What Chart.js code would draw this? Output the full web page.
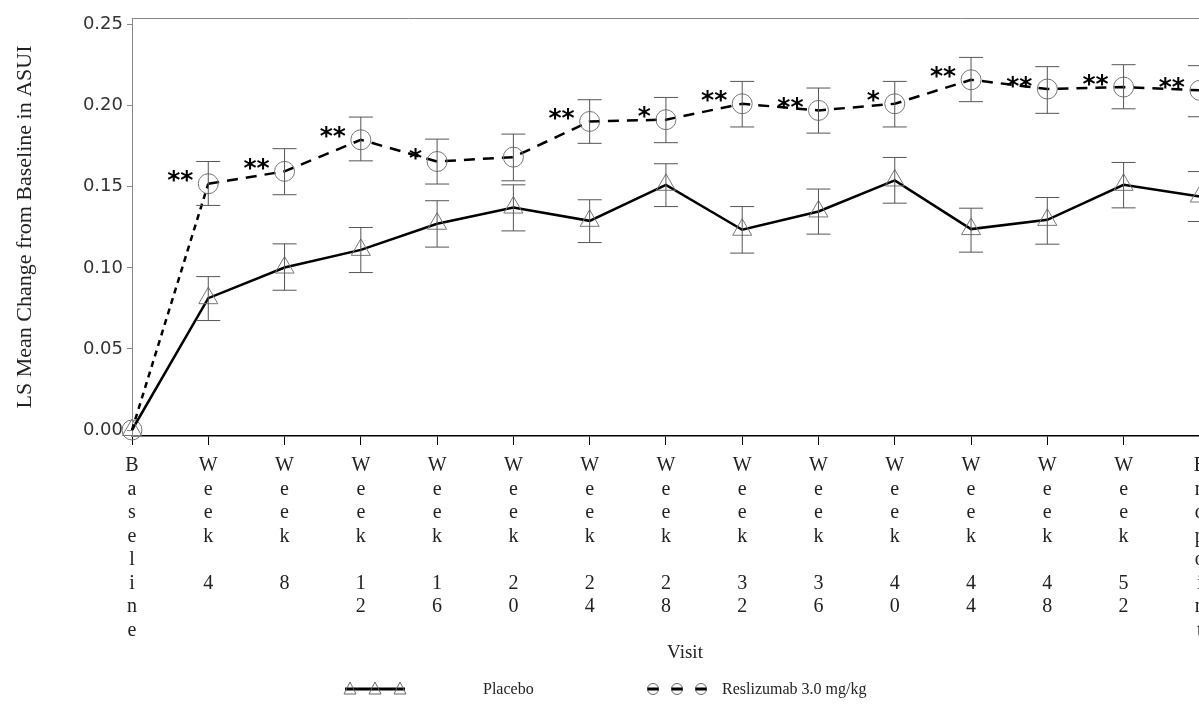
<!DOCTYPE html>
<html>
<head>
<meta charset="utf-8">
<script src="https://cdn.jsdelivr.net/npm/chart.js@4"></script>
<style>
    body { margin: 0; background: #fff; overflow: hidden; }
    #wrap { width: 1250px; height: 706px; }
</style>
</head>
<body>
<div id="wrap"><canvas id="asuiChart"></canvas></div>
<script>
// Wizyty (oś X)
const visitLabels = ['Baseline', 'Week 4', 'Week 8', 'Week 12', 'Week 16', 'Week 20', 'Week 24',
    'Week 28', 'Week 32', 'Week 36', 'Week 40', 'Week 44', 'Week 48', 'Week 52', 'Endpoint'];

// Placebo - średnia LS i granice słupków błędu
const placeboMean = [0, 0.0813, 0.1002, 0.1111, 0.1272, 0.1372, 0.1290, 0.1512, 0.1235, 0.1348, 0.1539, 0.1239, 0.1296, 0.1512, 0.1440];
const placeboHigh = [null, 0.0946, 0.1148, 0.1249, 0.1414, 0.1512, 0.1420, 0.1642, 0.1378, 0.1486, 0.1681, 0.1368, 0.1434, 0.1650, 0.1594];
const placeboLow = [null, 0.0675, 0.0862, 0.0971, 0.1128, 0.1228, 0.1156, 0.1378, 0.1091, 0.1208, 0.1399, 0.1097, 0.1146, 0.1370, 0.1286];

// Reslizumab 3.0 mg/kg
const reslizMean = [0, 0.1519, 0.1595, 0.1790, 0.1656, 0.1683, 0.1903, 0.1914, 0.2012, 0.1971, 0.2012, 0.2160, 0.2103, 0.2115, 0.2095];
const reslizHigh = [null, 0.1656, 0.1735, 0.1930, 0.1794, 0.1825, 0.2037, 0.2051, 0.2150, 0.2109, 0.2150, 0.2298, 0.2241, 0.2253, 0.2247];
const reslizLow = [null, 0.1385, 0.1451, 0.1660, 0.1517, 0.1537, 0.1768, 0.1772, 0.1869, 0.1831, 0.1869, 0.2025, 0.1953, 0.1981, 0.1932];

// Istotność statystyczna
const reslizStars = ['', '**', '**', '**', '*', '', '**', '*', '**', '**', '*', '**', '**', '**', '**'];

// Podziałki osi Y
const yTickValues = [0, 0.05, 0.10, 0.15, 0.20, 0.25];

// Słupki błędu, gwiazdki i górna ramka
const errorBars = {
    id: 'errorBars',
    afterDatasetsDraw(chart) {
        const { ctx, scales: { x, y } } = chart;
        ctx.save();
        ctx.strokeStyle = '#555';
        ctx.lineWidth = 1;
        [[placeboHigh, placeboLow], [reslizHigh, reslizLow]].forEach(([hi, lo]) => {
            hi.forEach((h, i) => {
                if (h === null) return;
                const px = x.getPixelForValue(i);
                const top = y.getPixelForValue(h);
                const bot = y.getPixelForValue(lo[i]);
                ctx.beginPath();
                ctx.moveTo(px, top); ctx.lineTo(px, bot);
                ctx.moveTo(px - 12, top); ctx.lineTo(px + 12, top);
                ctx.moveTo(px - 12, bot); ctx.lineTo(px + 12, bot);
                ctx.stroke();
            });
        });
        ctx.fillStyle = '#000';
        ctx.font = 'bold 25px "DejaVu Sans"';
        ctx.textAlign = 'right';
        ctx.textBaseline = 'middle';
        reslizStars.forEach((s, i) => {
            if (!s) return;
            ctx.fillText(s, x.getPixelForValue(i) - 15, y.getPixelForValue(reslizMean[i]) - 2);
        });
        const a = chart.chartArea;
        ctx.strokeStyle = '#888';
        ctx.beginPath();
        ctx.moveTo(a.left, a.top + 0.5); ctx.lineTo(a.right, a.top + 0.5);
        ctx.lineTo(a.right, a.bottom);
        ctx.stroke();
        ctx.restore();
    }
};

// Legenda pod wykresem
const bottomLegend = {
    id: 'bottomLegend',
    afterDraw(chart) {
        const ctx = chart.ctx;
        const ly = 689;
        ctx.save();
        ctx.strokeStyle = '#000';
        ctx.lineWidth = 3;
        ctx.beginPath(); ctx.moveTo(345, ly); ctx.lineTo(405, ly); ctx.stroke();
        ctx.strokeStyle = '#666';
        ctx.lineWidth = 1;
        [350, 375, 400].forEach(cx => {
            ctx.beginPath();
            ctx.moveTo(cx, ly - 7); ctx.lineTo(cx + 6, ly + 5); ctx.lineTo(cx - 6, ly + 5); ctx.closePath();
            ctx.stroke();
        });
        [653, 677, 701].forEach(cx => {
            ctx.strokeStyle = '#666';
            ctx.lineWidth = 1;
            ctx.beginPath(); ctx.arc(cx, ly, 5.5, 0, Math.PI * 2); ctx.stroke();
            ctx.strokeStyle = '#000';
            ctx.lineWidth = 3;
            ctx.beginPath(); ctx.moveTo(cx - 5.5, ly); ctx.lineTo(cx + 5.5, ly); ctx.stroke();
        });
        ctx.fillStyle = '#222';
        ctx.font = '16px "Liberation Serif"';
        ctx.textAlign = 'left';
        ctx.textBaseline = 'middle';
        ctx.fillText('Placebo', 483, ly + 1);
        ctx.fillText('Reslizumab 3.0 mg/kg', 722, ly + 1);
        ctx.restore();
    }
};

const ctx = document.getElementById('asuiChart').getContext('2d');
new Chart(ctx, {
    type: 'line',
    data: {
        datasets: [{
            label: 'Placebo',
            data: placeboMean.map((v, i) => ({ x: i, y: v })),
            borderColor: '#000',
            borderWidth: 2.5,
            pointStyle: 'triangle',
            pointRadius: 11,
            pointBorderColor: '#777',
            pointBorderWidth: 1,
            pointBackgroundColor: 'rgba(0,0,0,0)',
            clip: false
        }, {
            label: 'Reslizumab 3.0 mg/kg',
            data: reslizMean.map((v, i) => ({ x: i, y: v })),
            borderColor: '#000',
            borderWidth: 2.5,
            borderDash: [11, 8],
            segment: {
                borderDash: c => c.p0DataIndex === 0 ? [6, 5] : [11, 8]
            },
            pointStyle: 'circle',
            pointRadius: 10,
            pointBorderColor: '#777',
            pointBorderWidth: 1,
            pointBackgroundColor: 'rgba(0,0,0,0)',
            clip: false
        }]
    },
    options: {
        responsive: true,
        maintainAspectRatio: false,
        animation: false,
        devicePixelRatio: 1,
        layout: { padding: { top: 18, left: 0, right: 12, bottom: 34 } },
        plugins: {
            legend: { display: false },
            tooltip: { enabled: false }
        },
        scales: {
            x: {
                type: 'linear',
                min: 0,
                max: 14.5,
                afterBuildTicks: s => { s.ticks = visitLabels.map((_, i) => ({ value: i })); },
                afterFit: s => { s.height = 236; },
                ticks: {
                    autoSkip: false,
                    maxRotation: 0,
                    padding: 9,
                    color: '#222',
                    font: { family: 'Liberation Serif', size: 20, lineHeight: 1.175 },
                    callback: v => visitLabels[v] ? visitLabels[v].split('') : ''
                },
                grid: { drawOnChartArea: false, tickLength: 9, tickColor: '#000' },
                border: { color: '#000', width: 1.5 },
                title: {
                    display: true,
                    text: 'Visit',
                    color: '#222',
                    font: { family: 'Liberation Serif', size: 19 },
                    padding: { top: 0, bottom: 8 }
                }
            },
            y: {
                min: -0.0037,
                max: 0.2541,
                afterBuildTicks: s => { s.ticks = yTickValues.map(v => ({ value: v })); },
                afterFit: s => { s.width = 132; },
                ticks: {
                    padding: 4,
                    color: '#333',
                    font: { family: 'DejaVu Sans', size: 18 },
                    callback: v => v.toFixed(2)
                },
                grid: { drawOnChartArea: false, tickLength: 5, tickColor: '#888' },
                border: { color: '#888', width: 1 },
                title: {
                    display: true,
                    text: 'LS Mean Change from Baseline in ASUI',
                    color: '#222',
                    font: { family: 'Liberation Serif', size: 22 },
                    padding: { top: 12, bottom: 0 }
                }
            }
        }
    },
    plugins: [errorBars, bottomLegend]
});
</script>
</body>
</html>
